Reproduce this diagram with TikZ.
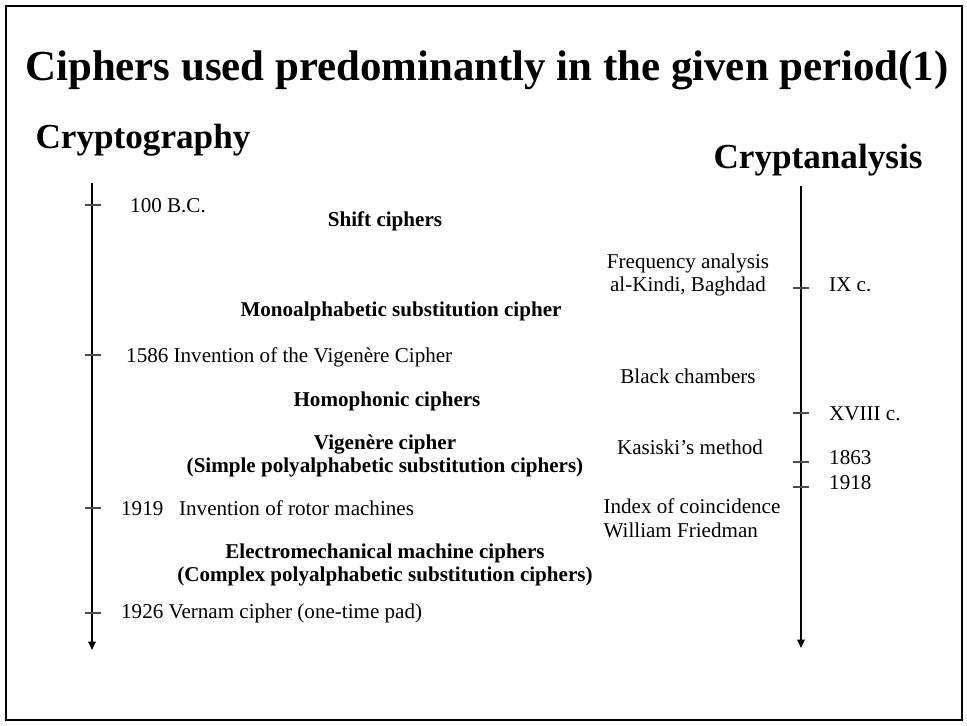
\documentclass[tikz,border=0pt]{standalone}
\usepackage{fontspec}
\setmainfont{Liberation Serif}
\usetikzlibrary{arrows.meta,positioning}

\begin{document}
\begin{tikzpicture}[x=0.02cm, y=-0.02cm,
  heading/.style={font=\bfseries\fontsize{20}{24}\selectfont},
  era/.style={font=\bfseries\fontsize{12}{13.5}\selectfont, align=center},
  event/.style={font=\fontsize{12}{13.5}\selectfont, anchor=west},
  attack/.style={font=\fontsize{12}{13.5}\selectfont, align=center},
  axis/.style={line width=1pt, -{Triangle[length=1.7mm, width=1.5mm]}},
  tick/.style={draw=black!70, line width=0.6pt}
]
  \useasboundingbox (0,0) rectangle (967,726);
  \draw[line width=1pt] (6,6) rectangle (962,720);
  % Title and column headings
  \node[font=\bfseries\fontsize{24.4}{28}\selectfont] (title) at (487,70) {Ciphers used predominantly in the given period(1)};
  \node[heading] (crypto) at (143,140) {Cryptography};
  \node[heading] (analysis) at (818,160) {Cryptanalysis};
  % Time axes
  \coordinate (ltop) at (92,183);
  \coordinate (lbot) at (92,650);
  \coordinate (rtop) at (801,186);
  \coordinate (rbot) at (801,648);
  \draw[axis] (ltop) -- (lbot);
  \draw[axis] (rtop) -- (rbot);
  \foreach \y in {205,355,508,613}
    \draw[tick] (85,\y) -- (101,\y);
  \foreach \y in {288,413,462,487}
    \draw[tick] (793,\y) -- (809,\y);
  % Cryptography side
  \node[event] (bc) at (124,206) {100 B.C.};
  \node[era] (shift) at (385,221) {Shift ciphers};
  \node[era] (mono) at (401,311) {Monoalphabetic substitution cipher};
  \node[event] (vig) at (120,357) {1586 Invention of the Vigen\`ere Cipher};
  \node[era] (homo) at (387,401) {Homophonic ciphers};
  \node[era] (simple) at (385,456) {Vigen\`ere cipher\\(Simple polyalphabetic substitution ciphers)};
  \node[event] (rotor) at (115,508) {1919\ \ \ Invention of rotor machines};
  \node[era] (electro) at (385,565) {Electromechanical machine ciphers\\(Complex polyalphabetic substitution ciphers)};
  \node[event] (vernam) at (115,613) {1926 Vernam cipher (one-time pad)};
  % Cryptanalysis side
  \node[attack] (freq) at (688,275) {Frequency analysis\\al-Kindi, Baghdad};
  \node[event] (ninth) at (823,285) {IX c.};
  \node[attack] (black) at (688,376) {Black chambers};
  \node[event] (xviii) at (823,414) {XVIII c.};
  \node[attack] (kasiski) at (690,447) {Kasiski's method};
  \node[event] (y1863) at (823,458) {1863};
  \node[attack, align=left] (index) at (692,518) {Index of coincidence\\William Friedman};
  \node[event] (y1918) at (823,483) {1918};
\end{tikzpicture}
\end{document}
